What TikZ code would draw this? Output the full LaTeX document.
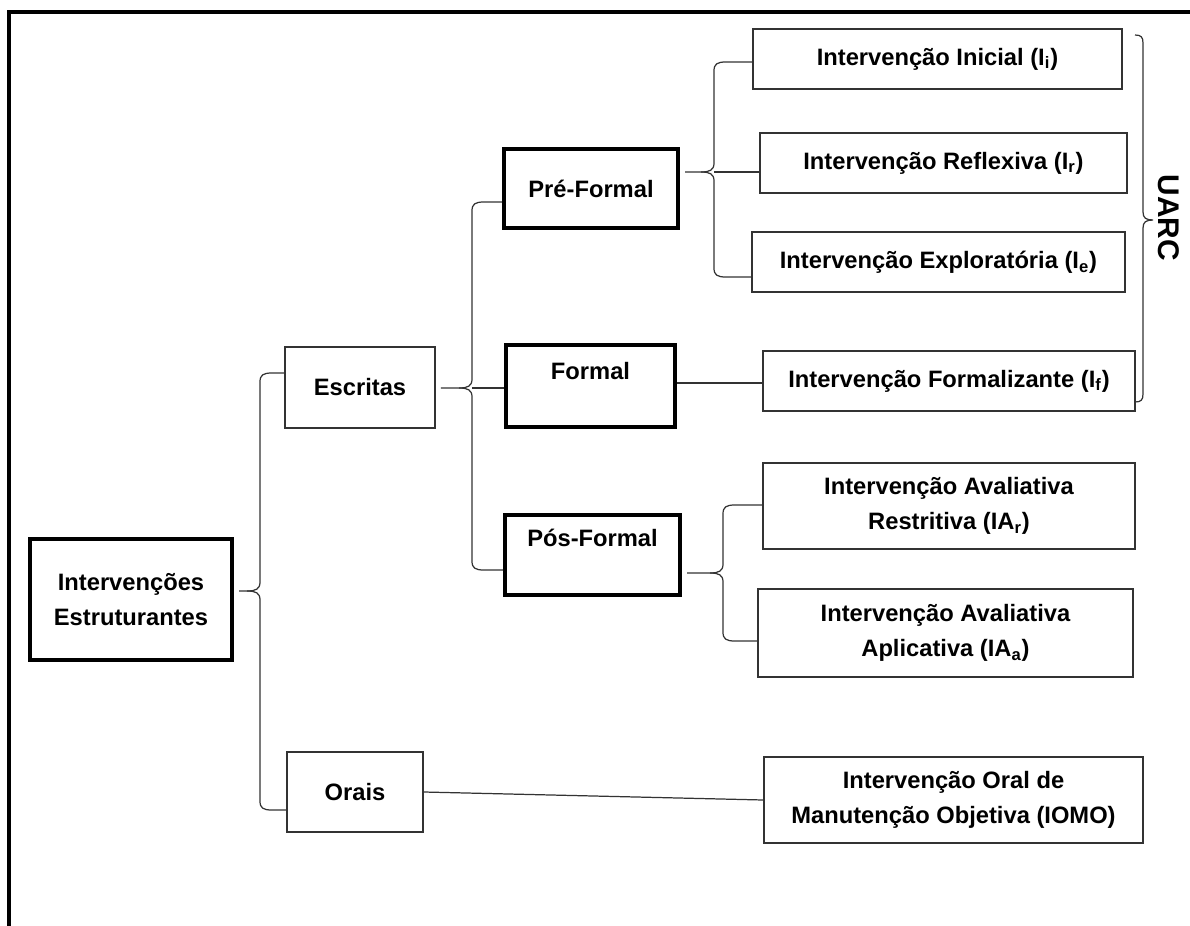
\documentclass[tikz,border=0pt]{standalone}
\usepackage{fontspec}
\setmainfont{Liberation Sans}

% #1 parent, #2 tip y, #3 x of the bar, #4 upper child, #5 its y, #6 lower child, #7 its y
\newcommand{\chave}[7]{%
  \draw[ligacao] ([xshift=3pt]#1.east |- 0,#2) -- (#3-13,#2)
    .. controls (#3-4,#2) and (#3,#2-2) .. (#3,#2-9) -- (#3,#5+9)
    .. controls (#3,#5+2) and (#3+3,#5) .. (#3+12,#5) -- (#4.west |- 0,#5);
  \draw[ligacao] (#3-13,#2)
    .. controls (#3-4,#2) and (#3,#2+2) .. (#3,#2+9) -- (#3,#7-9)
    .. controls (#3,#7-2) and (#3+3,#7) .. (#3+12,#7) -- (#6.west |- 0,#7);
}

\begin{document}
\begin{tikzpicture}[x=0.02cm,y=-0.02cm,
    node font=\fontsize{13.5}{20}\selectfont\bfseries,
    sz/.style 2 args={minimum width=#1*0.02cm,minimum height=#2*0.02cm},
    caixa/.style={draw=black!80,line width=0.8pt,inner sep=0pt,align=center},
    caixafase/.style={draw=black,line width=2.2pt,inner sep=0pt,align=center},
    ligacao/.style={draw=black!80,line width=0.7pt}]
    \useasboundingbox (0,0) rectangle (1190,926);
    \draw[line width=2.6pt] (9,926) -- (9,12) -- (1190,12);

    \node[caixafase, sz={202}{121}] (estr) at (131,599.5) {Intervenções\\Estruturantes};
    \node[caixa, sz={150}{81}] (escr) at (360,387.5) {Escritas};
    \node[caixa, sz={136}{80}] (orais) at (355,792) {Orais};

    \node[caixafase, sz={174}{79}] (pre) at (591,188.5) {Pré-Formal};
    \node[caixafase, sz={169}{82}, text depth=0.62cm] (formal) at (590.5,386) {Formal};
    \node[caixafase, sz={175}{80}, text depth=0.7cm] (pos) at (592.5,555) {Pós-Formal};

    \node[caixa, sz={369}{60}] (ini) at (937.5,59) {Intervenção Inicial (I\textsubscript{i})};
    \node[caixa, sz={367}{60}] (refl) at (943.5,163) {Intervenção Reflexiva (I\textsubscript{r})};
    \node[caixa, sz={373}{60}] (expl) at (938.5,262) {Intervenção Exploratória (I\textsubscript{e})};
    \node[caixa, sz={372}{60}] (fmlz) at (949,381) {Intervenção Formalizante (I\textsubscript{f})};
    \node[caixa, sz={372}{86}] (restr) at (949,506) {Intervenção Avaliativa\\Restritiva (IA\textsubscript{r})};
    \node[caixa, sz={375}{88}] (aplic) at (945.5,633) {Intervenção Avaliativa\\Aplicativa (IA\textsubscript{a})};
    \node[caixa, sz={379}{86}] (iomo) at (953.5,800) {Intervenção Oral de\\Manutenção Objetiva (IOMO)};

    \chave{estr}{591}{260}{escr}{373}{orais}{810}
    \chave{escr}{388}{472}{pre}{202}{pos}{570}
    \chave{pre}{172}{714}{ini}{62}{expl}{277}
    \chave{pos}{573}{723}{restr}{505}{aplic}{641}

    \draw[ligacao] (472,388) -- (formal.west |- 0,388);
    \draw[ligacao] (714,172) -- (refl.west |- 0,172);
    \draw[ligacao] (formal.east |- 0,383) -- (fmlz.west |- 0,383);
    \draw[ligacao] (orais.east) -- (iomo.west);

    % UARC
    \coordinate (u1) at (1135,35);
    \coordinate (u2) at (1135,402);
    \draw[ligacao] (u1) .. controls (1141,35) and (1143,37) .. (1143,43) -- (1143,212)
      .. controls (1143,218) and (1146,220) .. (1153,220)
      .. controls (1146,220) and (1143,222) .. (1143,228) -- (1143,394)
      .. controls (1143,400) and (1141,402) .. (u2);
    \node[rotate=-90, font=\fontsize{17}{20}\selectfont\bfseries] (uarc) at (1169,218) {UARC};
\end{tikzpicture}
\end{document}
